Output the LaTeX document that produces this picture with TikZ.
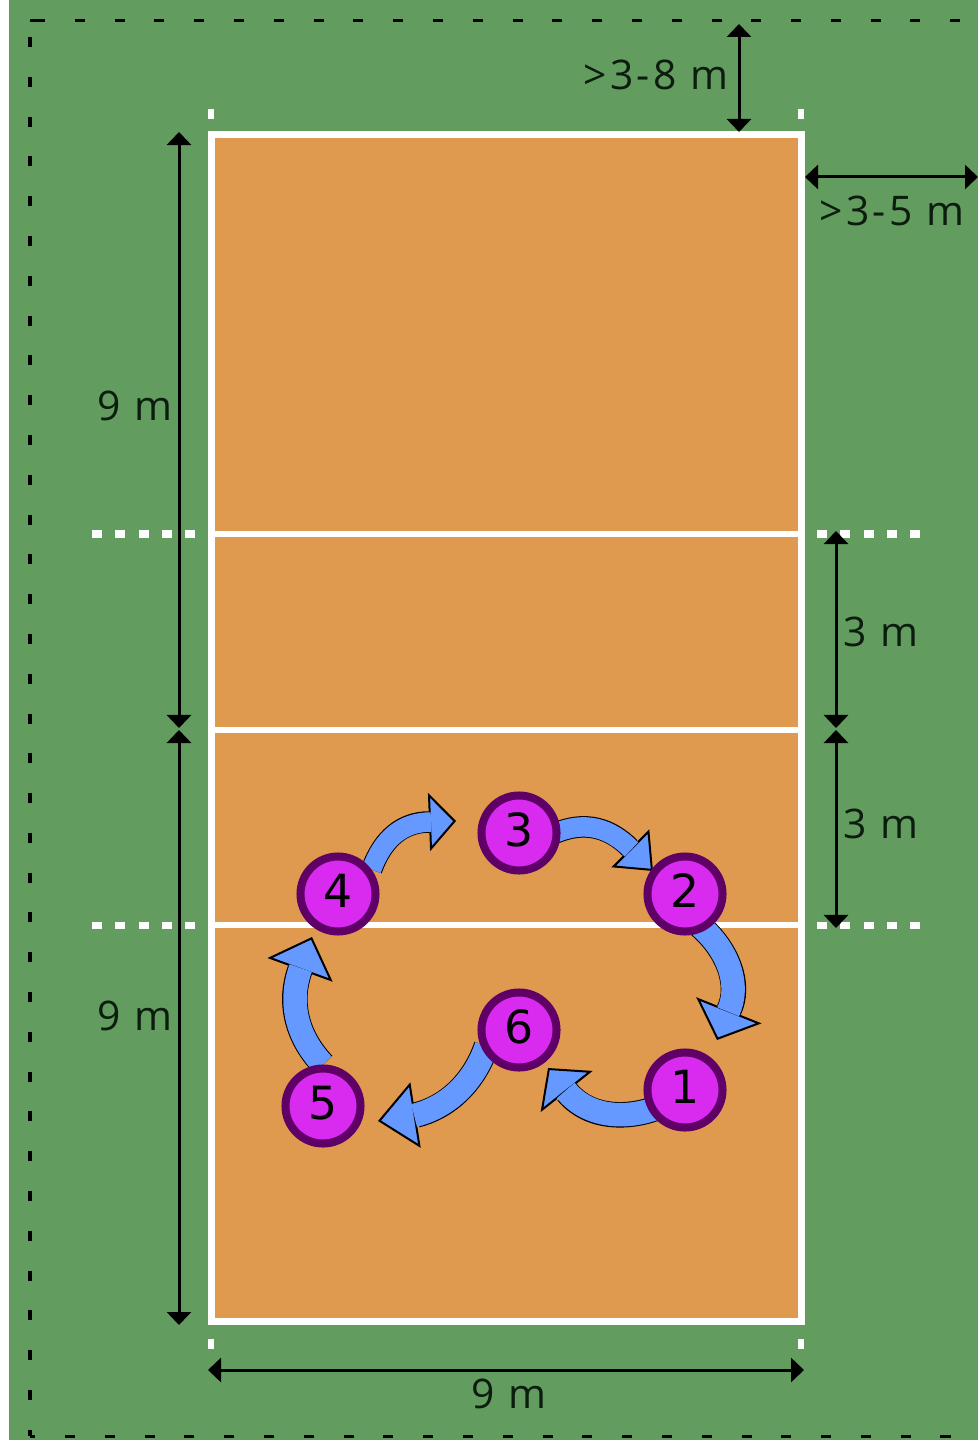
\documentclass[tikz,border=0pt]{standalone}
\usepackage{xcolor}
\usepackage{fontspec}
\usepackage{tikz}
\usetikzlibrary{arrows.meta, backgrounds, positioning}
\setmainfont{DejaVu Sans}
\newfontfamily\dimfont[LetterSpace=8]{Open Sans}
\definecolor{FloorGreen}{RGB}{98,156,94}
\definecolor{CourtOrange}{RGB}{223,154,80}
\definecolor{PlayerPink}{RGB}{217,43,240}
\definecolor{PlayerRim}{RGB}{95,0,102}
\definecolor{MoveBlue}{RGB}{102,153,255}
\definecolor{DimInk}{RGB}{12,28,14}
\tikzset{
    dimTip/.tip={Triangle[length=0.13cm, width=0.24cm]},
}
\begin{document}
\begin{tikzpicture}[
    x=0.01cm, y=-0.01cm,
    player/.style={circle, draw=PlayerRim, fill=PlayerPink, line width=0.08cm, minimum size=0.75cm,
                   inner sep=0pt, text height=0.33cm, text depth=0.06cm,
                   font=\fontsize{13pt}{13pt}\selectfont, text=black},
    movehead/.style 2 args={-{Triangle[length=#1cm, width=#2cm, fill=MoveBlue, color=black, line width=0.02cm]},
                            line width=0.01cm, draw=MoveBlue},
    bigmove/.style={draw=MoveBlue, line width=0.235cm, shorten >=-0.02cm,
                    preaction={draw=black, line width=0.255cm, shorten >=0pt}},
    smallmove/.style={draw=MoveBlue, line width=0.195cm, shorten >=-0.02cm,
                      preaction={draw=black, line width=0.215cm, shorten >=0pt}},
    dimline/.style={{dimTip}-{dimTip}, line width=0.03cm, color=black},
    dimlabel/.style={inner sep=0pt, text=DimInk, font=\dimfont\fontsize{11.6pt}{12pt}\selectfont},
    courtline/.style={draw=white, line width=0.06cm},
    attackdash/.style={draw=white, line width=0.07cm, dash pattern=on 0.1cm off 0.133cm},
    freezone/.style={draw=black, line width=0.03cm, dash pattern=on 0.1cm off 0.2977cm},
]
\useasboundingbox (0,0) rectangle (978,1440);
\begin{scope}[on background layer]
\fill[FloorGreen] (9,0) rectangle (978,1440);
\draw[freezone, dash phase=0.3477cm] (30,21) -- (978,21);
\draw[freezone, dash phase=0.2377cm] (30,21) -- (30,1436);
\draw[freezone, dash phase=0.0477cm] (30,1436) -- (978,1436);
\draw[freezone, solid] (30,21) -- (36,21);
\fill[CourtOrange] (211,135) rectangle (801,1321);
\draw[courtline, line width=0.07cm] (211,135) rectangle (801,1321);
\foreach \yy in {534,730,925} \draw[courtline] (211,\yy) -- (801,\yy);
\foreach \yy in {534,925} {
    \draw[attackdash] (92,\yy) -- (196,\yy);
    \draw[attackdash] (817,\yy) -- (921,\yy);
}
\foreach \xx in {211,801} \foreach \yy in {114,1344}
    \fill[white] (\xx-3,\yy-5) rectangle (\xx+3,\yy+5);
\end{scope}

\node[player] (p1) at (685,1090) {1};
\node[player] (p2) at (685,894) {2};
\node[player] (p3) at (519,833) {3};
\node[player] (p4) at (338,894) {4};
\node[player] (p5) at (323,1106) {5};
\node[player] (p6) at (519,1030) {6};

\coordinate (neck4) at (429,822);
\coordinate (goal4) at (456,821);
\coordinate (neck3) at (630,848);
\coordinate (goal3) at (653,871);
\coordinate (neck2) at (729,1010);
\coordinate (goal2) at (717,1040);
\coordinate (neck1) at (567,1092);
\coordinate (goal1) at (548,1068);
\coordinate (neck6) at (416,1115);
\coordinate (goal6) at (378,1121);
\coordinate (neck5) at (300,970);
\coordinate (goal5) at (312,937);

\begin{scope}[on background layer]
\draw[movehead={0.27}{0.58}] (neck4) -- (goal4);
\draw[smallmove] (p4.36) .. controls (383,838) and (403,822) .. (neck4);
\draw[movehead={0.32}{0.53}] (neck3) -- (goal3);
\draw[smallmove, shorten <=-0.07cm] (p3.3) .. controls (585,820) and (610,828) .. (neck3);
\draw[movehead={0.32}{0.70}] (neck2) -- (goal2);
\draw[bigmove, shorten <=-0.07cm] (p2.-61) .. controls (728,950) and (741,985) .. (neck2);
\draw[movehead={0.30}{0.66}] (neck1) -- (goal1);
\draw[bigmove, shorten <=-0.07cm] (p1.210) .. controls (630,1118) and (590,1120) .. (neck1);
\draw[movehead={0.38}{0.66}] (neck6) -- (goal6);
\draw[bigmove, shorten <=-0.07cm] (p6.213) .. controls (473,1085) and (445,1108) .. (neck6);
\draw[movehead={0.35}{0.69}] (neck5) -- (goal5);
\draw[bigmove] (p5.90) .. controls (295,1035) and (289,1000) .. (neck5);
\end{scope}

\coordinate (topA) at (179,132);
\coordinate (midA) at (179,728);
\coordinate (midB) at (179,730);
\coordinate (lowA) at (179,1325);
\coordinate (atkA) at (836,531);
\coordinate (netA) at (836,728);
\coordinate (netB) at (836,730);
\coordinate (atkB) at (836,928);
\coordinate (zoneA) at (739,24);
\coordinate (zoneB) at (739,132);
\coordinate (sideA) at (805,177);
\coordinate (sideB) at (978,177);
\coordinate (baseA) at (208,1370);
\coordinate (baseB) at (804,1370);

\draw[dimline] (topA) -- (midA);
\draw[dimline] (midB) -- (lowA);
\draw[dimline] (atkA) -- (netA);
\draw[dimline] (netB) -- (atkB);
\draw[dimline] (zoneA) -- (zoneB);
\draw[dimline] (sideA) -- (sideB);
\draw[dimline] (baseA) -- (baseB);

\node[dimlabel] (lenFar) at (135,406) {9 m};
\node[dimlabel] (lenNear) at (135,1016) {9 m};
\node[dimlabel] (atkFar) at (881,632) {3 m};
\node[dimlabel] (atkNear) at (881,824) {3 m};
\node[dimlabel] (wide) at (509,1394) {9 m};
\node[dimlabel] (endZone) at (656,75) {>3-8 m};
\node[dimlabel] (sideZone) at (892,211) {>3-5 m};
\end{tikzpicture}
\end{document}
